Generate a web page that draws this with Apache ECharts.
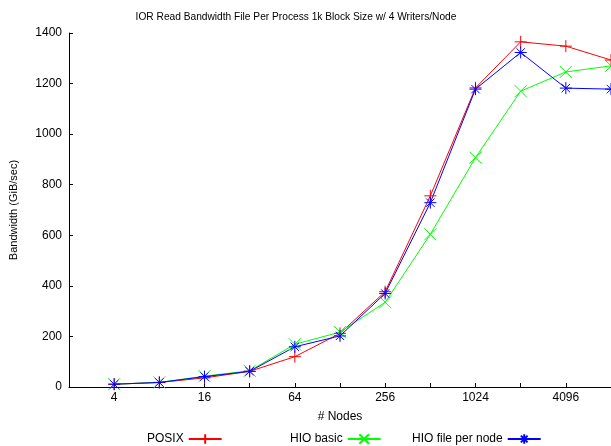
<!DOCTYPE html>
<html>
<head>
<meta charset="utf-8">
<script src="https://cdn.jsdelivr.net/npm/echarts@6/dist/echarts.min.js"></script>
<style>
  html, body { margin: 0; padding: 0; background: #fff; }
  #chart { width: 611px; height: 446px; }
</style>
</head>
<body>
<div id="chart"></div>
<script>
// node counts (x, log2 scale) and bandwidth in GiB/sec
const nodes = [4, 8, 16, 32, 64, 128, 256, 512, 1024, 2048, 4096, 8192]
const posix = [11, 18, 36, 62, 120, 212, 377, 756, 1183, 1365, 1348, 1293]
const hioBasic = [11, 18, 43, 64, 169, 217, 335, 604, 907, 1170, 1246, 1270]
const hioFilePerNode = [11, 18, 41, 62, 159, 202, 370, 729, 1178, 1323, 1182, 1178]
const yTicks = [0, 200, 400, 600, 800, 1000, 1200, 1400]

const font = 'Liberation Sans, Arial, sans-serif'
const plus = 'path://M0,5 L10,5 M5,0 L5,10'
const cross = 'path://M0,0 L10,10 M10,0 L0,10'
const star = 'path://M0,5 L10,5 M5,0 L5,10 M1.5,1.5 L8.5,8.5 M8.5,1.5 L1.5,8.5'

function toPairs(vals) {
  return nodes.map((n, i) => [Math.log2(n), vals[i]])
}

function makeSeries(name, vals, color, symbol) {
  return {
    name: name,
    type: 'line',
    data: toPairs(vals),
    symbol: symbol,
    symbolSize: 12,
    showAllSymbol: true,
    lineStyle: { color: color, width: 1 },
    itemStyle: { color: 'rgba(0,0,0,0)', borderColor: color, borderWidth: 1 },
    emphasis: { disabled: true },
    animation: false
  }
}

function makeLegend(name, left) {
  return {
    data: [name],
    left: left,
    top: 428,
    align: 'right',
    itemWidth: 33,
    itemHeight: 12,
    itemGap: 0,
    textStyle: { fontFamily: font, fontSize: 12, color: '#000' },
    selectedMode: false
  }
}

const chart = echarts.init(document.getElementById('chart'))
chart.setOption({
  animation: false,
  title: {
    text: 'IOR Read Bandwidth File Per Process 1k Block Size w/ 4 Writers/Node',
    left: 291,
    textAlign: 'center',
    top: 7,
    textStyle: { fontFamily: font, fontSize: 10.2, fontWeight: 'normal', color: '#000' }
  },
  legend: [
    makeLegend('POSIX', 142),
    makeLegend('HIO basic', 285),
    makeLegend('HIO file per node', 407)
  ],
  grid: { left: 69, right: 0, top: 33, bottom: 59, outerBoundsMode: 'none' },
  xAxis: {
    type: 'value',
    min: 1,
    max: 13,
    interval: 1,
    name: '# Nodes',
    nameLocation: 'middle',
    nameGap: 24,
    nameTextStyle: { fontFamily: font, fontSize: 12, color: '#000' },
    axisLine: { lineStyle: { color: '#000', width: 1 } },
    axisTick: { inside: true, length: 4, lineStyle: { color: '#000' } },
    splitLine: { show: false },
    axisLabel: {
      fontFamily: font, fontSize: 12, color: '#000', margin: 5,
      formatter: v => (v % 2 === 0 ? String(Math.pow(2, v)) : '')
    }
  },
  yAxis: {
    type: 'value',
    min: yTicks[0],
    max: yTicks[yTicks.length - 1],
    interval: 200,
    name: 'Bandwidth (GiB/sec)',
    nameLocation: 'middle',
    nameGap: 50,
    nameTextStyle: { fontFamily: font, fontSize: 11, color: '#000' },
    axisLine: { show: true, lineStyle: { color: '#000', width: 1 } },
    axisTick: { show: true, inside: true, length: 4, lineStyle: { color: '#000' } },
    splitLine: { show: false },
    axisLabel: {
      fontFamily: font, fontSize: 12, color: '#000', margin: 7,
      formatter: v => String(v)
    }
  },
  series: [
    makeSeries('POSIX', posix, '#ff0000', plus),
    makeSeries('HIO basic', hioBasic, '#00ff00', cross),
    makeSeries('HIO file per node', hioFilePerNode, '#0000ff', star)
  ]
})
</script>
</body>
</html>
